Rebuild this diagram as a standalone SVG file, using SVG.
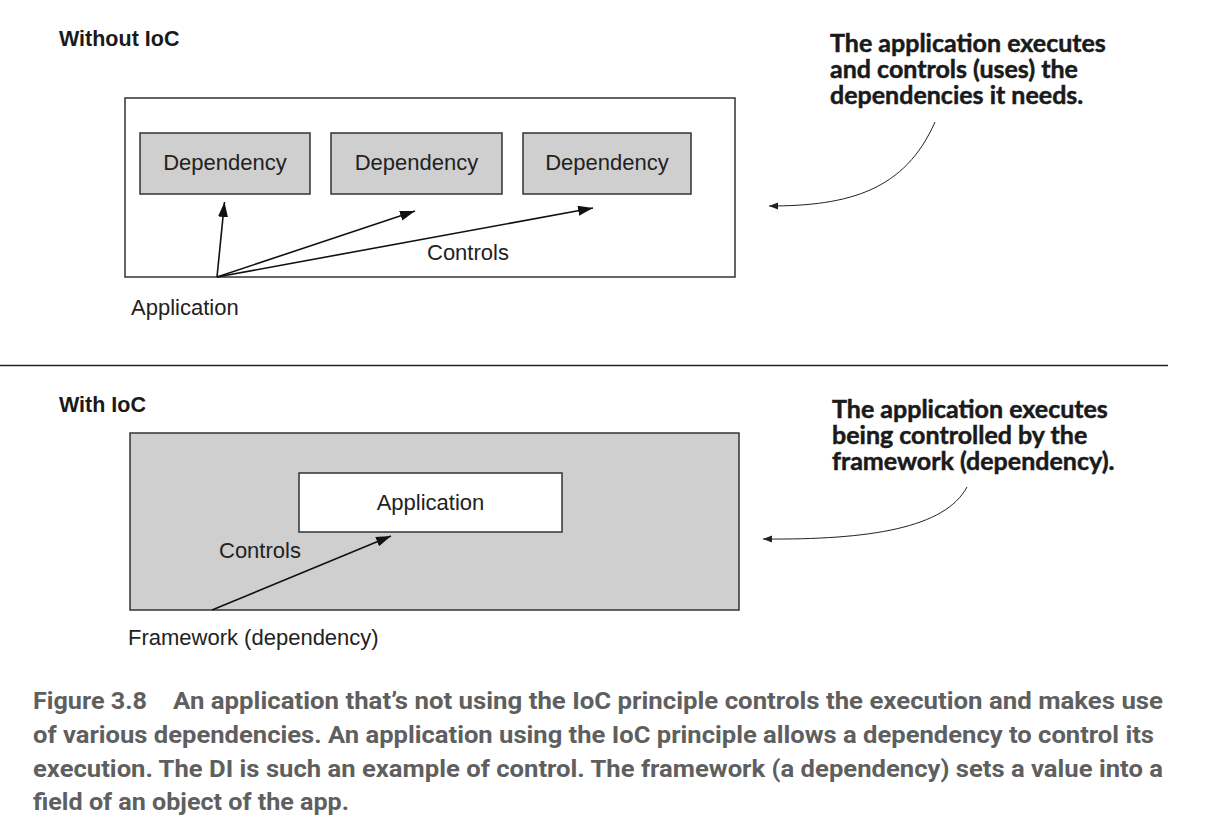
<svg xmlns="http://www.w3.org/2000/svg" width="1211" height="833" viewBox="0 0 1211 833">
<style>
.lbl{font-family:"Liberation Sans",Arial,sans-serif;font-size:22px;fill:#222}
.hdr{font-family:"Liberation Sans",Arial,sans-serif;font-size:21.5px;font-weight:bold;fill:#1a1a1a}
.call{font-family:Lato,"Open Sans",sans-serif;font-size:25px;font-weight:bold;fill:#1a1a1a;stroke:#1a1a1a;stroke-width:0.5}
.cap{font-family:Roboto,"Liberation Sans",sans-serif;font-size:23px;font-weight:bold;fill:#5f5f5f}
.box{stroke:#333;stroke-width:1.5}
.gray{fill:#cfcfcf}
.white{fill:#fff}
.conn{stroke:#111;stroke-width:1.6;fill:none}
.thin{stroke:#222;stroke-width:1;fill:none}
</style>
<defs>
<marker id="ah" markerUnits="userSpaceOnUse" markerWidth="16" markerHeight="12" refX="15" refY="5" orient="auto">
<path d="M0,0 L15,5 L0,10 z" fill="#111"/>
</marker>
<marker id="sh" markerUnits="userSpaceOnUse" markerWidth="10" markerHeight="8" refX="9" refY="3.5" orient="auto">
<path d="M0,0 L9,3.5 L0,7 z" fill="#222"/>
</marker>
</defs>
<rect width="1211" height="833" fill="#fff"/>

<text class="hdr" x="59" y="46">Without IoC</text>
<g id="outer-top"><rect class="box white" x="125" y="98" width="610" height="179"/></g>
<g id="dep1"><rect class="box gray" x="140" y="133" width="170" height="61"/><text class="lbl" x="225" y="170" text-anchor="middle">Dependency</text></g>
<g id="dep2"><rect class="box gray" x="331" y="133" width="171" height="61"/><text class="lbl" x="416.5" y="170" text-anchor="middle">Dependency</text></g>
<g id="dep3"><rect class="box gray" x="523" y="133" width="168" height="61"/><text class="lbl" x="607" y="170" text-anchor="middle">Dependency</text></g>
<g id="app-top"><text class="lbl" x="131" y="315">Application</text></g>
<text class="lbl" x="427" y="260">Controls</text>

<line x1="0" y1="365.5" x2="1168" y2="365.5" stroke="#222" stroke-width="1.5"/>

<text class="hdr" x="59" y="412">With IoC</text>
<g id="outer-bottom"><rect class="box gray" x="130" y="433" width="609" height="177"/></g>
<g id="app-bottom"><rect class="box white" x="299" y="473" width="263" height="59"/><text class="lbl" x="430.5" y="510" text-anchor="middle">Application</text></g>
<g id="framework"><text class="lbl" x="128" y="645">Framework (dependency)</text></g>
<text class="lbl" x="219" y="558">Controls</text>

<g id="callout-top"><text class="call"><tspan x="830" y="52">The application executes</tspan><tspan x="830" y="78">and controls (uses) the</tspan><tspan x="830" y="104">dependencies it needs.</tspan></text></g>
<g id="callout-bottom"><text class="call"><tspan x="832" y="418">The application executes</tspan><tspan x="832" y="444">being controlled by the</tspan><tspan x="832" y="470">framework (dependency).</tspan></text></g>

<g id="connectors">
<line class="conn" x1="217" y1="277" x2="224.5" y2="202" marker-end="url(#ah)"/>
<line class="conn" x1="217" y1="277" x2="415" y2="211" marker-end="url(#ah)"/>
<line class="conn" x1="217" y1="277" x2="593" y2="208" marker-end="url(#ah)"/>
<line class="conn" x1="212" y1="610" x2="391" y2="536" marker-end="url(#ah)"/>
<path class="thin" d="M935,122 C905,190 850,206 769,206" marker-end="url(#sh)"/>
<path class="thin" d="M967,487 C945,528 870,540 763,539" marker-end="url(#sh)"/>
</g>

<g id="caption">
<text class="cap" x="33" y="709" textLength="114" lengthAdjust="spacingAndGlyphs">Figure 3.8</text>
<text class="cap" x="173" y="709" textLength="990" lengthAdjust="spacingAndGlyphs">An application that’s not using the IoC principle controls the execution and makes use</text>
<text class="cap" x="33" y="743" textLength="1121" lengthAdjust="spacingAndGlyphs">of various dependencies. An application using the IoC principle allows a dependency to control its</text>
<text class="cap" x="33" y="777" textLength="1130" lengthAdjust="spacingAndGlyphs">execution. The DI is such an example of control. The framework (a dependency) sets a value into a</text>
<text class="cap" x="33" y="810" textLength="316" lengthAdjust="spacingAndGlyphs">field of an object of the app.</text>
</g>
</svg>
